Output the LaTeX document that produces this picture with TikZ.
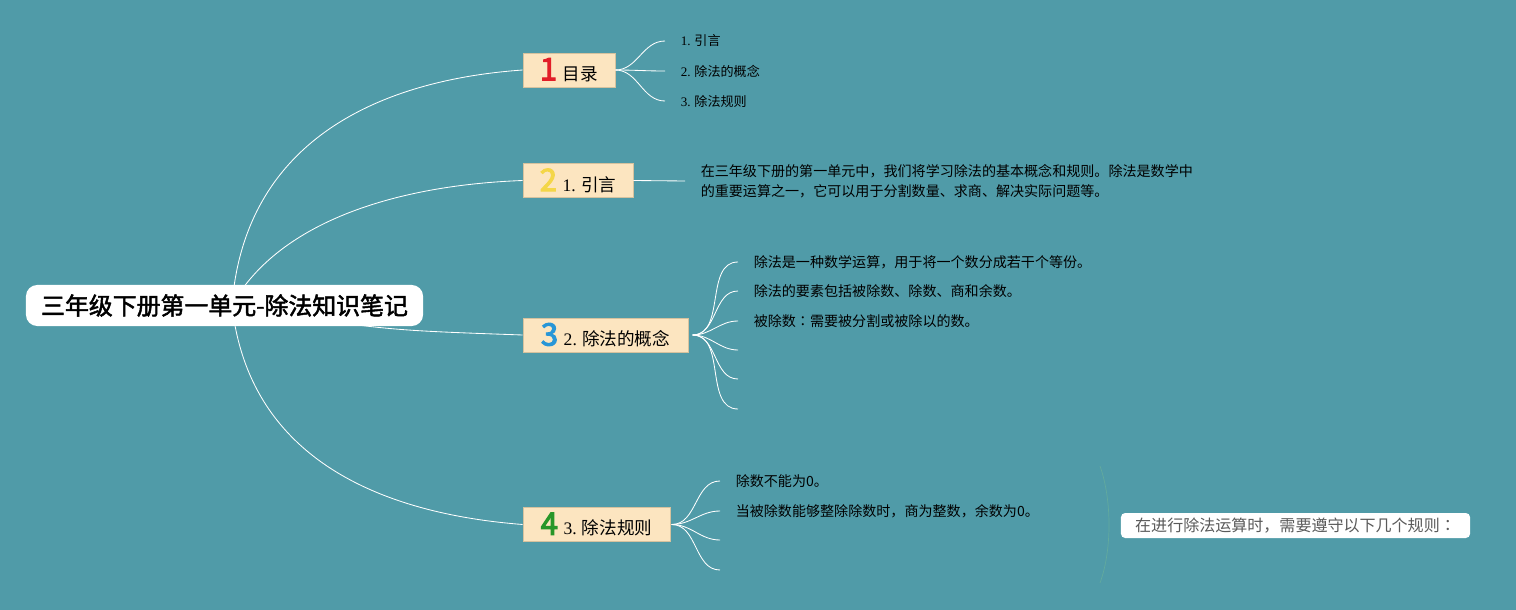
\documentclass[tikz,border=0pt]{standalone}
\usepackage{fontspec}
\setmainfont{Liberation Serif}
\newfontfamily\cjk[AutoFakeBold=2]{Noto Sans CJK SC}
\newfontfamily\cjktc{Noto Sans CJK TC}
\newfontfamily\badgefont[FakeBold=3.5]{Noto Sans CJK SC}
\definecolor{sea}{RGB}{80,155,168}
\definecolor{tan}{RGB}{252,229,192}
\definecolor{tanedge}{RGB}{214,194,158}
\definecolor{badgered}{RGB}{226,30,40}
\definecolor{badgeyellow}{RGB}{244,214,72}
\definecolor{badgeblue}{RGB}{40,150,215}
\definecolor{badgegreen}{RGB}{40,150,40}
\definecolor{notegray}{RGB}{90,90,90}
\definecolor{bracketline}{RGB}{98,170,158}
\newcommand\badge[2]{{\color{#1}\badgefont\fontsize{22}{22}\selectfont #2}\hspace{4pt}}
\newcommand\colonmark{{\cjktc ：}}
\begin{document}
\begin{tikzpicture}[x=0.025cm, y=-0.025cm, font=\cjk,
        topic/.style={draw=tanedge, fill=tan, minimum height=0.85cm,
                      inner xsep=2pt, font=\cjk\fontsize{12.5}{15}\selectfont},
        leaf/.style={anchor=west, inner xsep=11pt, inner ysep=1pt, align=left,
                     font=\cjk\fontsize{10}{14.2}\selectfont},
        small/.style={leaf, font=\cjk\fontsize{9.3}{12}\selectfont},
        bough/.style={draw=white, line width=0.6pt},
        twig/.style={draw=white, line width=0.6pt, out=0, in=180}]
      \fill[sea] (0,0) rectangle (1516,610);
      \useasboundingbox (0,0) rectangle (1516,610);
      % topics
      \node[topic, minimum width=2.3cm]   (toc)     at (569,70)    {\badge{badgered}{1}目录};
      \node[topic, minimum width=2.75cm]  (intro)   at (578,180.5) {\badge{badgeyellow}{2}{\rmfamily 1.} 引言};
      \node[topic, minimum width=4.125cm] (concept) at (605.5,335)  {\badge{badgeblue}{3}{\rmfamily 2.} 除法的概念};
      \node[topic, minimum width=3.675cm] (rules)   at (596.5,524.5){\badge{badgegreen}{4}{\rmfamily 3.} 除法规则};
      % root links
      \coordinate (hub) at (232,305);
      \draw[bough] (hub) .. controls (245,140) and (380,80) .. (toc.west);
      \draw[bough] (hub) .. controls (280,220) and (400,185) .. (intro.west);
      \draw[bough] (hub) .. controls (380,330) .. (concept.west);
      \draw[bough] (hub) .. controls (250,470) and (400,515) .. (rules.west);
      \node[fill=white, rounded corners=8pt, minimum width=9.925cm, minimum height=1.025cm,
            font=\cjk\fontsize{17}{20}\selectfont\bfseries] (root) at (224.5,305.5)
            {三年级下册第一单元-除法知识笔记};
      % table of contents
      \node[small] (toc1) at (665,41)  {{\rmfamily 1.} 引言};
      \node[small] (toc2) at (665,71)  {{\rmfamily 2.} 除法的概念};
      \node[small] (toc3) at (665,101) {{\rmfamily 3.} 除法规则};
      \foreach \t in {toc1,toc2,toc3}
        \draw[twig] (toc.east) to (\t.west);
      % introduction
      \node[leaf] (intro1) at (685,181)
            {在三年级下册的第一单元中，我们将学习除法的基本概念和规则。除法是数学中\\
             的重要运算之一，它可以用于分割数量、求商、解决实际问题等。};
      \draw[bough] (intro.east) -- (intro1.west);
      % concept
      \node[leaf] (con1) at (738,262) {除法是一种数学运算，用于将一个数分成若干个等份。};
      \node[leaf] (con2) at (738,291) {除法的要素包括被除数、除数、商和余数。};
      \node[leaf] (con3) at (738,321) {被除数\colonmark 需要被分割或被除以的数。};
      \coordinate (con4) at (738,350);
      \coordinate (con5) at (738,379);
      \coordinate (con6) at (738,409);
      \foreach \t in {con1,con2,con3}
        \draw[twig] ([xshift=3pt]concept.east) to (\t.west);
      \foreach \t in {con4,con5,con6}
        \draw[twig] ([xshift=3pt]concept.east) to (\t);
      % rules
      \node[leaf] (rule1) at (720,481) {除数不能为0。};
      \node[leaf] (rule2) at (720,511) {当被除数能够整除除数时，商为整数，余数为0。};
      \coordinate (rule3) at (720,540);
      \coordinate (rule4) at (720,570);
      \foreach \t in {rule1,rule2}
        \draw[twig] ([xshift=1pt]rules.east) to (\t.west);
      \foreach \t in {rule3,rule4}
        \draw[twig] ([xshift=1pt]rules.east) to (\t);
      % summary
      \coordinate (bracetop) at (1100,466);
      \coordinate (bracebot) at (1100,583);
      \draw[bracketline, line width=0.5pt] (bracetop) .. controls (1112,500) and (1112,550) .. (bracebot);
      \node[fill=white, rounded corners=3pt, minimum width=8.725cm, minimum height=0.625cm,
            text=notegray, font=\cjk\fontsize{11.4}{13}\selectfont] (summary) at (1295.5,525.5)
            {在进行除法运算时，需要遵守以下几个规则\colonmark};
    \end{tikzpicture}
\end{document}
